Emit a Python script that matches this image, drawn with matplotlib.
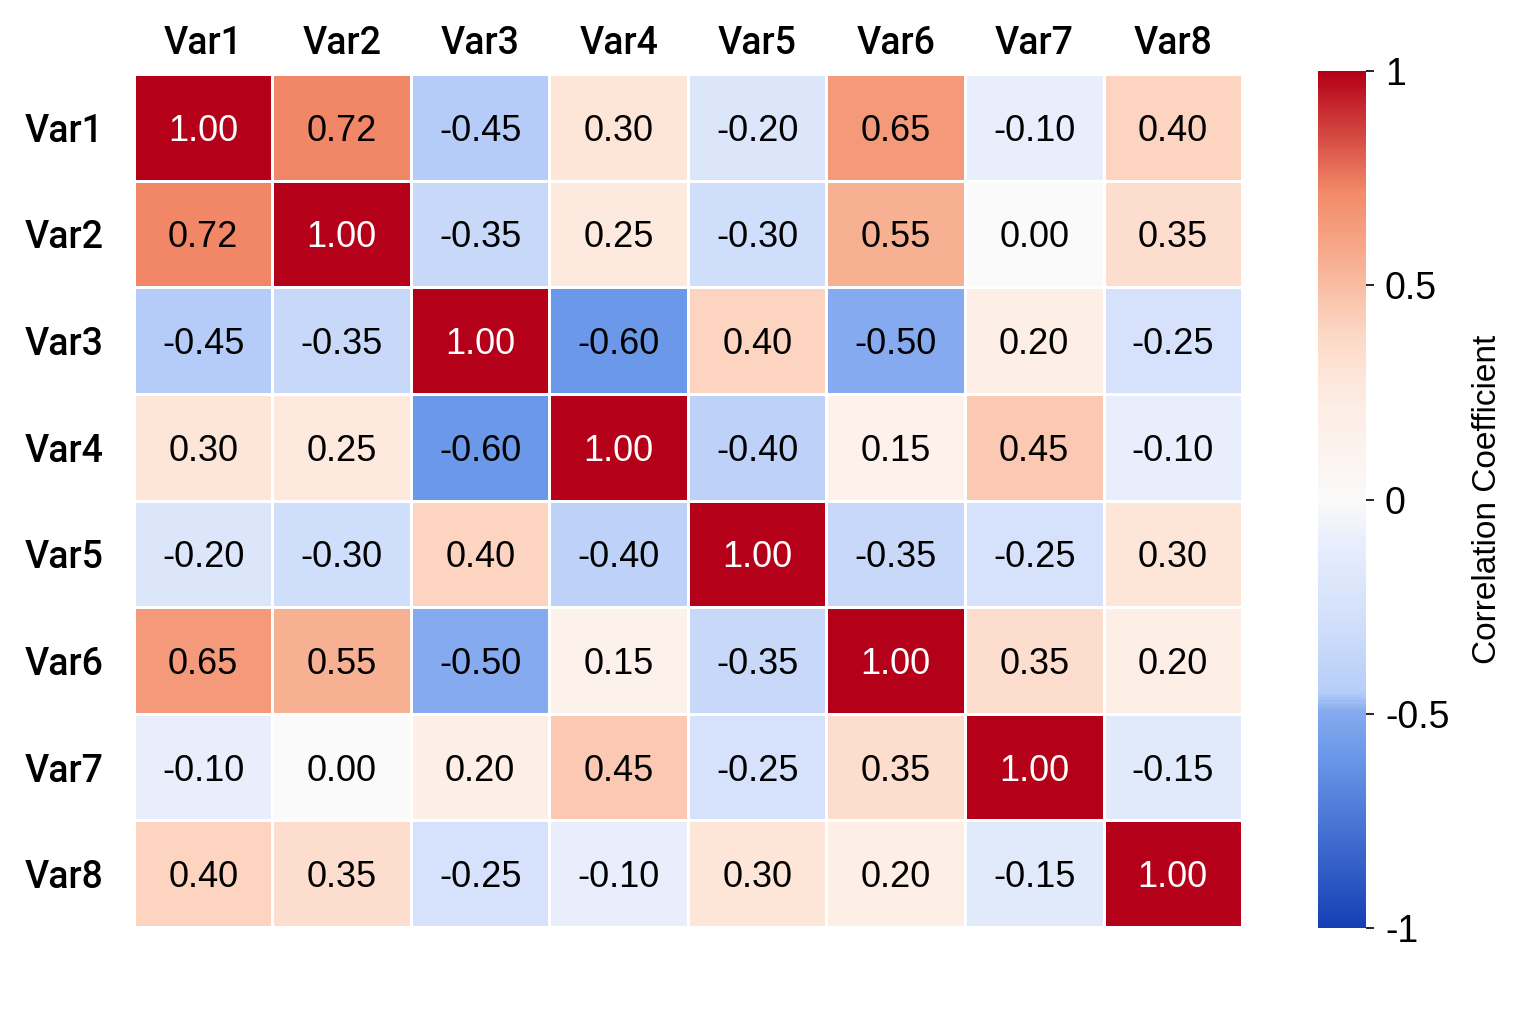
import numpy as np
import matplotlib
matplotlib.use("Agg")
import matplotlib.pyplot as plt
from matplotlib.colors import LinearSegmentedColormap

labels = ['Var1', 'Var2', 'Var3', 'Var4', 'Var5', 'Var6', 'Var7', 'Var8']
corr = np.array([
    [1.00, 0.72, -0.45, 0.30, -0.20, 0.65, -0.10, 0.40],
    [0.72, 1.00, -0.35, 0.25, -0.30, 0.55, 0.00, 0.35],
    [-0.45, -0.35, 1.00, -0.60, 0.40, -0.50, 0.20, -0.25],
    [0.30, 0.25, -0.60, 1.00, -0.40, 0.15, 0.45, -0.10],
    [-0.20, -0.30, 0.40, -0.40, 1.00, -0.35, -0.25, 0.30],
    [0.65, 0.55, -0.50, 0.15, -0.35, 1.00, 0.35, 0.20],
    [-0.10, 0.00, 0.20, 0.45, -0.25, 0.35, 1.00, -0.15],
    [0.40, 0.35, -0.25, -0.10, 0.30, 0.20, -0.15, 1.00],
])
cbar_ticks = [-1, -0.5, 0, 0.5, 1]
cbar_ticklabels = ['-1', '-0.5', '0', '0.5', '1']

plt.rcParams['font.family'] = ['Liberation Sans', 'DejaVu Sans']

# blue - white - red, nodes picked from the cell colours
nodes = [(-1.00, '#1540b5'), (-0.60, '#6b98e8'), (-0.50, '#84a9ef'),
         (-0.45, '#b6cdf8'), (-0.30, '#cfdefa'), (-0.10, '#e8eefc'),
         (0.00, '#fafafa'), (0.20, '#fdeee6'), (0.30, '#fde5d8'),
         (0.40, '#fcd5c1'), (0.55, '#f8b194'), (0.72, '#f28a68'),
         (1.00, '#b40018')]
cmap = LinearSegmentedColormap.from_list('corr', [((v + 1) / 2, c) for v, c in nodes])

fig = plt.figure(figsize=(15.36, 10.24), dpi=100)
ax = fig.add_axes([0.0872, 0.0947, 0.7214, 0.8330])
cax = fig.add_axes([0.858, 0.0937, 0.031, 0.837])

n = len(labels)
im = ax.pcolormesh(np.arange(n + 1), np.arange(n + 1), corr, cmap=cmap,
                   vmin=-1, vmax=1, edgecolor='white', linewidth=2)
ax.set_xlim(0, n)
ax.set_ylim(n, 0)
for i in range(n):
    for j in range(n):
        v = corr[i, j]
        ax.text(j + 0.5, i + 0.5, f'{v:.2f}',
                ha='center', va='center_baseline', fontsize=26,
                color='white' if v > 0.9 else 'black')

ax.xaxis.tick_top()
ax.set_xticks(np.arange(n) + 0.5)
ax.set_xticklabels(labels, fontsize=27, family=['Roboto', 'DejaVu Sans'], weight='medium')
ax.set_yticks(np.arange(n) + 0.5)
ax.set_yticklabels(labels, fontsize=27, family=['Roboto', 'DejaVu Sans'], weight='medium')
ax.tick_params(axis='x', length=0, pad=9)
ax.tick_params(axis='y', length=0, pad=22)
for s in ax.spines.values():
    s.set_visible(False)

cb = fig.colorbar(im, cax=cax, ticks=cbar_ticks)
cb.ax.set_yticklabels(cbar_ticklabels, fontsize=27)
cb.ax.tick_params(length=6, width=1.2, pad=8)
cb.outline.set_visible(False)
cb.set_label('Correlation Coefficient', fontsize=24, labelpad=16)

fig.savefig('out.png', dpi=100)
